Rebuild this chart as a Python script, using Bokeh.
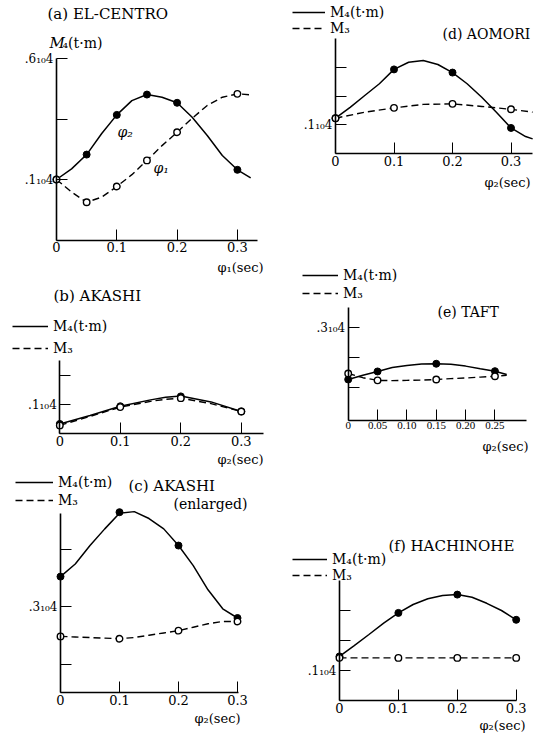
from bokeh.plotting import figure
from bokeh.layouts import row, column
from bokeh.models import Legend, LegendItem, FixedTicker, Range1d
from bokeh.core.properties import value
from bokeh.embed import file_html
from bokeh.resources import INLINE

# ---------------- data (moments in 10^4 t·m, periods in sec) ----------------
# (a) EL-CENTRO : M4 against phi2 (solid) and phi1 (dashed)
a_pt_x = [0.0, 0.05, 0.10, 0.15, 0.20, 0.30]
a_phi2_pt = [0.100, 0.203, 0.367, 0.451, 0.417, 0.140]
a_phi1_pt = [0.100, 0.006, 0.071, 0.179, 0.295, 0.454]
a_cv_x = [0.0, 0.025, 0.05, 0.075, 0.10, 0.125, 0.15, 0.175, 0.20, 0.225, 0.25, 0.275, 0.30, 0.322]
a_phi2_cv = [0.100, 0.144, 0.203, 0.290, 0.367, 0.426, 0.451, 0.440, 0.417, 0.357, 0.282, 0.199, 0.140, 0.107]
a_phi1_cv = [0.100, 0.048, 0.006, 0.027, 0.071, 0.120, 0.179, 0.240, 0.295, 0.353, 0.406, 0.440, 0.454, 0.450]

# (b) AKASHI
b_pt_x = [0.0, 0.1, 0.2, 0.3]
b_m4_pt = [0.034, 0.095, 0.129, 0.077]
b_m3_pt = [0.029, 0.092, 0.123, 0.077]
b_cv_x = [0.0, 0.05, 0.10, 0.15, 0.175, 0.20, 0.25, 0.30]
b_m4_cv = [0.034, 0.063, 0.095, 0.117, 0.126, 0.130, 0.110, 0.077]
b_m3_cv = [0.029, 0.060, 0.092, 0.112, 0.119, 0.123, 0.104, 0.077]

# (c) AKASHI (enlarged)
c_pt_x = [0.0, 0.1, 0.2, 0.3]
c_m4_pt = [0.352, 0.464, 0.406, 0.280]
c_m3_pt = [0.248, 0.244, 0.258, 0.274]
c_cv_x = [0.0, 0.025, 0.05, 0.075, 0.10, 0.125, 0.15, 0.175, 0.20, 0.225, 0.25, 0.275, 0.30]
c_m4_cv = [0.352, 0.374, 0.406, 0.435, 0.462, 0.465, 0.453, 0.435, 0.406, 0.371, 0.329, 0.296, 0.280]
c_m3_cv = [0.248, 0.247, 0.246, 0.245, 0.244, 0.246, 0.250, 0.254, 0.258, 0.264, 0.270, 0.274, 0.274]

# (d) AOMORI
d_pt_x = [0.0, 0.1, 0.2, 0.3]
d_m4_pt = [0.123, 0.293, 0.282, 0.089]
d_m3_pt = [0.123, 0.159, 0.173, 0.154]
d_m4_cv_x = [0.0, 0.025, 0.05, 0.075, 0.10, 0.125, 0.15, 0.175, 0.20, 0.225, 0.25, 0.275, 0.30, 0.325, 0.337]
d_m4_cv = [0.123, 0.161, 0.202, 0.243, 0.293, 0.318, 0.324, 0.310, 0.282, 0.243, 0.196, 0.144, 0.089, 0.059, 0.051]
d_m3_cv_x = [0.0, 0.05, 0.10, 0.15, 0.20, 0.25, 0.30, 0.337]
d_m3_cv = [0.123, 0.144, 0.159, 0.171, 0.173, 0.164, 0.154, 0.144]

# (e) TAFT
e_pt_x = [0.0, 0.05, 0.15, 0.25]
e_m4_pt = [0.126, 0.153, 0.179, 0.154]
e_m3_pt = [0.146, 0.123, 0.126, 0.137]
e_cv_x = [0.0, 0.025, 0.05, 0.075, 0.10, 0.125, 0.15, 0.175, 0.20, 0.225, 0.25, 0.27]
e_m4_cv = [0.126, 0.140, 0.153, 0.166, 0.173, 0.178, 0.179, 0.177, 0.171, 0.162, 0.154, 0.143]
e_m3_cv = [0.146, 0.132, 0.123, 0.122, 0.123, 0.124, 0.126, 0.129, 0.131, 0.134, 0.137, 0.140]

# (f) HACHINOHE
f_pt_x = [0.0, 0.1, 0.2, 0.3]
f_m4_pt = [0.147, 0.292, 0.353, 0.269]
f_m3_pt = [0.142, 0.142, 0.142, 0.142]
f_cv_x = [0.0, 0.025, 0.05, 0.075, 0.10, 0.125, 0.15, 0.175, 0.20, 0.225, 0.25, 0.275, 0.30]
f_m4_cv = [0.147, 0.183, 0.220, 0.258, 0.292, 0.320, 0.339, 0.350, 0.353, 0.344, 0.324, 0.300, 0.269]

# tick values / labels
x_ticks_main = [0.0, 0.1, 0.2, 0.3]
x_labels_main = ["0", "0.1", "0.2", "0.3"]
x_ticks_e = [0.0, 0.05, 0.10, 0.15, 0.20, 0.25]
x_labels_e = ["0", "0.05", "0.10", "0.15", "0.20", "0.25"]

SERIF = "DejaVu Serif"
DASH = "7 4"


def make_panel(ox, oy, W, H, x0_px, sx, yref_px, yref_val, sy):
    xs = -(x0_px - ox) / sx
    ye = yref_val + (yref_px - oy) / sy
    p = figure(width=W, height=H, x_range=Range1d(xs, xs + W / sx),
               y_range=Range1d(ye - H / sy, ye), output_backend="svg",
               toolbar_location=None, title=None, min_border=0,
               outline_line_color=None)
    p.grid.visible = False
    g = dict(ox=ox, oy=oy, xs=xs, ye=ye, sx=sx, sy=sy, W=W, H=H)
    return p, g


def dx(g, rx):
    return g["xs"] + (rx - g["ox"]) / g["sx"]


def dy(g, ry):
    return g["ye"] - (ry - g["oy"]) / g["sy"]


def style_axes(p, xend, ybot, ytop, xticks, xlabels, yticks, ylabels,
               xfont=SERIF, xsize="13px"):
    xa, ya = p.xaxis[0], p.yaxis[0]
    xa.fixed_location = ybot
    ya.fixed_location = 0
    xa.bounds = (0, xend)
    ya.bounds = (ybot, ytop)
    xa.ticker = FixedTicker(ticks=xticks, minor_ticks=[])
    ya.ticker = FixedTicker(ticks=yticks, minor_ticks=[])
    xa.major_label_overrides = dict(zip(xticks, xlabels))
    ya.major_label_overrides = dict(zip(yticks, ylabels))
    for ax in (xa, ya):
        ax.axis_line_color = "black"
        ax.axis_line_width = 1.6
        ax.major_tick_in = 11
        ax.major_tick_out = 0
        ax.major_tick_line_color = "black"
        ax.major_tick_line_width = 1
        ax.minor_tick_line_color = None
        ax.major_label_text_color = "black"
        ax.major_label_text_font = SERIF
    xa.major_label_text_font = xfont
    xa.major_label_text_font_size = xsize
    ya.major_label_text_font_size = "12px"
    xa.major_label_standoff = 2
    ya.major_label_standoff = 3


def lab(p, g, text, rx, ry, size="14px", align="left", style="normal"):
    p.text(x=[dx(g, rx)], y=[dy(g, ry)], text=[text], text_font=value(SERIF),
           text_font_size=value(size), text_align=align, text_baseline="middle",
           text_font_style=style, text_color="black")


def draw(p, cx4, cy4, px4, py4, cx3, cy3, px3, py3):
    r3 = p.line(cx3, cy3, line_color="black", line_width=1.4, line_dash=DASH)
    r4 = p.line(cx4, cy4, line_color="black", line_width=1.5)
    p.scatter(px4, py4, marker="circle", size=7, fill_color="black",
              line_color="black", line_width=1)
    p.scatter(px3, py3, marker="circle", size=6.5, fill_color="white",
              line_color="black", line_width=1.4)
    return r4, r3


def add_legend(p, g, r4, r3, line_x0, first_center, gap, glyph_w):
    item_h = 16
    spacing = max(gap - item_h, 0)
    top = first_center - g["oy"] - item_h / 2
    total = 2 * item_h + spacing
    leg = Legend(items=[LegendItem(label="M₄(t·m)", renderers=[r4]),
                        LegendItem(label="M₃", renderers=[r3])],
                 location=(line_x0 - g["ox"], g["H"] - (top + total)),
                 padding=0, margin=0, spacing=spacing, glyph_width=glyph_w,
                 glyph_height=item_h, label_height=item_h, label_standoff=5,
                 border_line_color=None, background_fill_alpha=0,
                 label_text_font=SERIF, label_text_font_size="14px",
                 label_text_color="black")
    p.add_layout(leg)


# ---------------- (a) EL-CENTRO ----------------
pa, ga = make_panel(0, 0, 270, 276, 56, 603, 179, 0.1, 242)
style_axes(pa, 0.333, -0.152, 0.6, x_ticks_main, x_labels_main,
           [0.1, 0.35, 0.6], [".1₁₀4", "", ".6₁₀4"])
draw(pa, a_cv_x, a_phi2_cv, a_pt_x, a_phi2_pt, a_cv_x, a_phi1_cv, a_pt_x, a_phi1_pt)
lab(pa, ga, "(a) EL-CENTRO", 47, 13, size="15px")
lab(pa, ga, "M", 49, 42, size="15px", style="italic")
lab(pa, ga, "₄(t·m)", 62, 42, size="14px")
lab(pa, ga, "φ₂", 117, 131, style="italic")
lab(pa, ga, "φ₁", 153, 167, style="italic")
lab(pa, ga, "φ₁(sec)", 263, 267, size="13px", align="right")

# ---------------- (b) AKASHI ----------------
pb, gb = make_panel(0, 276, 270, 192, 59.3, 605, 433.3, 0.0, 290)
style_axes(pb, 0.337, 0.0, 0.253, x_ticks_main, x_labels_main,
           [0.1, 0.2], [".1₁₀4", ""])
r4, r3 = draw(pb, b_cv_x, b_m4_cv, b_pt_x, b_m4_pt, b_cv_x, b_m3_cv, b_pt_x, b_m3_pt)
add_legend(pb, gb, r4, r3, 12, 326, 22, 36)
lab(pb, gb, "(b) AKASHI", 53, 295, size="15px")
lab(pb, gb, "φ₂(sec)", 263, 459, size="13px", align="right")

# ---------------- (c) AKASHI (enlarged) ----------------
pc, gc = make_panel(0, 468, 270, 267, 60, 590, 606, 0.3, 575)
style_axes(pc, 0.302, 0.150, 0.462, x_ticks_main, x_labels_main,
           [0.2, 0.3, 0.4], ["", ".3₁₀4", ""])
r4, r3 = draw(pc, c_cv_x, c_m4_cv, c_pt_x, c_m4_pt, c_cv_x, c_m3_cv, c_pt_x, c_m3_pt)
add_legend(pc, gc, r4, r3, 15, 482, 18, 38)
lab(pc, gc, "(c) AKASHI", 128, 485, size="15px")
lab(pc, gc, "(enlarged)", 173, 503, size="14px")
lab(pc, gc, "φ₂(sec)", 240, 718, size="13px", align="right")

# ---------------- (d) AOMORI ----------------
pd, gd = make_panel(270, 0, 270, 232, 335, 585, 153, 0.0, 287)
style_axes(pd, 0.337, 0.0, 0.40, x_ticks_main, x_labels_main,
           [0.1, 0.2, 0.3], [".1₁₀4", "", ""])
r4, r3 = draw(pd, d_m4_cv_x, d_m4_cv, d_pt_x, d_m4_pt, d_m3_cv_x, d_m3_cv, d_pt_x, d_m3_pt)
add_legend(pd, gd, r4, r3, 292, 12, 16, 33)
lab(pd, gd, "(d) AOMORI", 442, 33, size="14px")
lab(pd, gd, "φ₂(sec)", 530, 182, size="13px", align="right")

# ---------------- (e) TAFT ----------------
pe, ge = make_panel(270, 232, 270, 240, 347.7, 587, 386.7, 0.1, 297)
style_axes(pe, 0.304, -0.012, 0.367, x_ticks_e, x_labels_e,
           [0.1, 0.2, 0.3], ["", "", ".3₁₀4"], xfont="Liberation Serif", xsize="11px")
r4, r3 = draw(pe, e_cv_x, e_m4_cv, e_pt_x, e_m4_pt, e_cv_x, e_m3_cv, e_pt_x, e_m3_pt)
add_legend(pe, ge, r4, r3, 302, 275, 18, 36)
lab(pe, ge, "(e) TAFT", 437, 311, size="14px")
lab(pe, ge, "φ₂(sec)", 528, 446, size="13px", align="right")

# ---------------- (f) HACHINOHE ----------------
pf, gf = make_panel(270, 472, 270, 263, 339, 589, 700, 0.0, 300)
style_axes(pf, 0.30, 0.0, 0.40, x_ticks_main, x_labels_main,
           [0.1, 0.2, 0.3], [".1₁₀4", "", ""])
r4, r3 = draw(pf, f_cv_x, f_m4_cv, f_pt_x, f_m4_pt, f_pt_x, f_m3_pt, f_pt_x, f_m3_pt)
add_legend(pf, gf, r4, r3, 292, 559, 16, 35)
lab(pf, gf, "(f) HACHINOHE", 388, 545, size="15px")
lab(pf, gf, "φ₂(sec)", 525, 725, size="13px", align="right")

layout = row(column(pa, pb, pc), column(pd, pe, pf))

with open("out.html", "w") as fh:
    fh.write(file_html(layout, INLINE))
